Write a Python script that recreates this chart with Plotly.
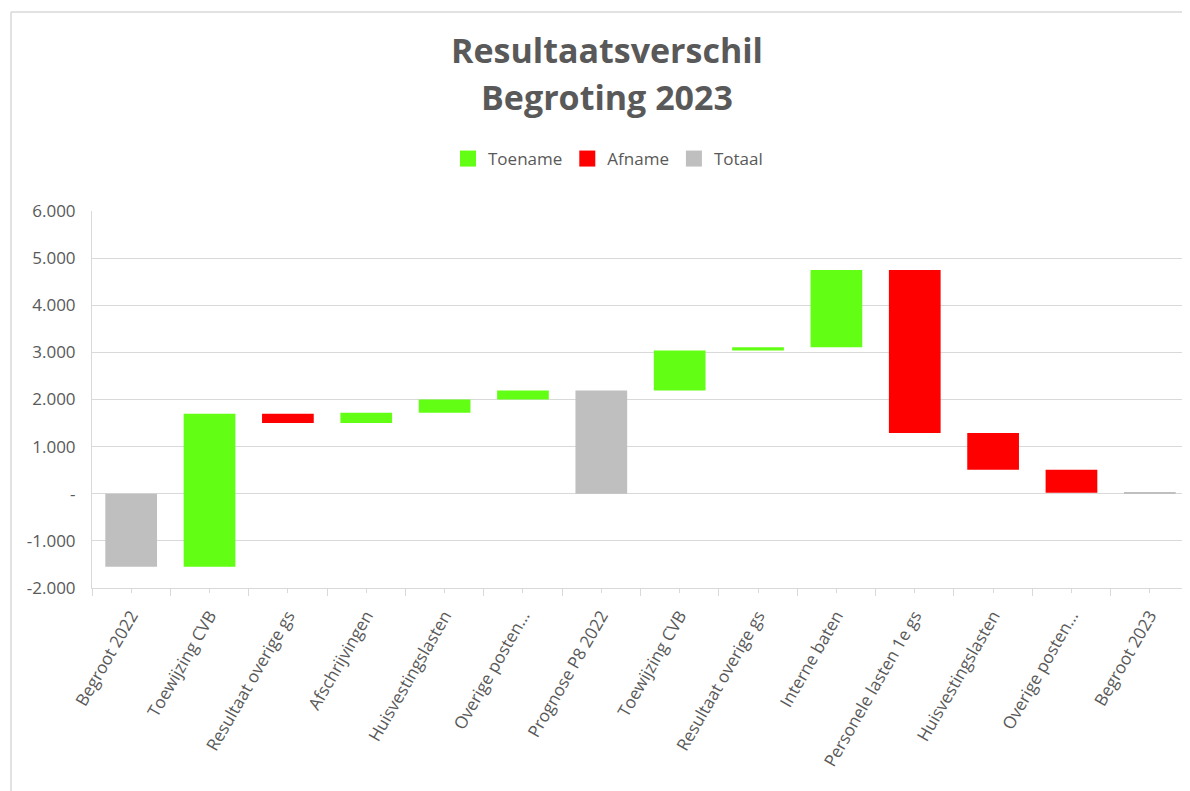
import plotly.graph_objects as go

# ---- data ----
categories = [
    "Begroot 2022", "Toewijzing CVB", "Resultaat overige gs", "Afschrijvingen",
    "Huisvestingslasten", "Overige posten...", "Prognose P8 2022", "Toewijzing CVB",
    "Resultaat overige gs", "Interne baten", "Personele lasten 1e gs",
    "Huisvestingslasten", "Overige posten...", "Begroot 2023",
]
measures = ["total", "relative", "relative", "relative", "relative", "relative", "total",
            "relative", "relative", "relative", "relative", "relative", "relative", "total"]
values = [-1550, 3250, -200, 220, 280, 190, 2190, 850, 70, 1640, -3460, -780, -490, 20]

y_tickvals = [-2000, -1000, 0, 1000, 2000, 3000, 4000, 5000, 6000]
y_ticktext = ["-2.000", "-1.000", "-", "1.000", "2.000", "3.000", "4.000", "5.000", "6.000"]

title_lines = ["Resultaatsverschil", "Begroting 2023"]
series_names = {"up": "Toename", "down": "Afname", "total": "Totaal"}
colors = {"up": "#62FF14", "down": "#FF0000", "total": "#BFBFBF"}

# ---- build waterfall pieces ----
groups = {"up": ([], [], []), "down": ([], [], []), "total": ([], [], [])}
running = 0
for i, (m, v) in enumerate(zip(measures, values)):
    if m == "total":
        running = v
        groups["total"][0].append(i); groups["total"][1].append(0); groups["total"][2].append(v)
    else:
        key = "up" if v >= 0 else "down"
        groups[key][0].append(i); groups[key][1].append(running); groups[key][2].append(v)
        running += v

fig = go.Figure()
for key in ["up", "down", "total"]:
    xs, bases, ys = groups[key]
    fig.add_trace(go.Bar(
        x=xs, y=ys, base=bases, name=series_names[key], legendgroup=key,
        marker=dict(color=colors[key], line=dict(width=0)),
        width=0.66, showlegend=False,
    ))
# legend entries with larger square swatches
for key in ["up", "down", "total"]:
    fig.add_trace(go.Scatter(
        x=[None], y=[None], mode="markers", name=series_names[key], legendgroup=key,
        marker=dict(symbol="square", size=16, color=colors[key]),
    ))

# page body has an 8px margin: figure origin sits at (8, 8) in the screenshot
OFF = 8
W, H = 1190 - OFF, 791 - OFF
ml, mt = 92 - OFF, 211 - OFF
plot_right, plot_bottom = 1189 - OFF, 588 - OFF
mr, mb = W - plot_right, H - plot_bottom
pw, ph = W - ml - mr, H - mt - mb

def px(x):  # screenshot x -> paper
    return (x - OFF - ml) / pw

def py(y):  # screenshot y -> paper
    return (plot_bottom - (y - OFF)) / ph

grid = "#D9D9D9"
txt = "#595959"

annotations = [
    dict(text="<b>%s</b>" % title_lines[0], xref="paper", yref="paper", x=px(607), y=py(50),
         xanchor="center", yanchor="middle", showarrow=False,
         font=dict(family="Open Sans", size=34, color=txt)),
    dict(text="<b>%s</b>" % title_lines[1], xref="paper", yref="paper", x=px(607), y=py(97),
         xanchor="center", yanchor="middle", showarrow=False,
         font=dict(family="Open Sans", size=34, color=txt)),
]

fig.update_layout(
    width=W, height=H,
    margin=dict(l=ml, r=mr, t=mt, b=mb, pad=0),
    paper_bgcolor="white", plot_bgcolor="white",
    barmode="overlay",
    font=dict(family="Open Sans", size=17, color=txt),
    annotations=annotations,
    legend=dict(
        orientation="h", x=px(608), xanchor="center",
        y=py(159), yanchor="middle",
        font=dict(size=17, color=txt), itemsizing="trace", traceorder="normal",
        itemwidth=30,
    ),
    showlegend=True,
    xaxis=dict(
        range=[-0.5, len(categories) - 0.5],
        tickmode="array", tickvals=list(range(len(categories))), ticktext=categories,
        tickangle=-60, ticks="outside", ticklen=4, tickcolor=grid,
        showline=True, linecolor=grid, linewidth=1,
        showgrid=False, zeroline=False, ticklabelstandoff=6,
        tickfont=dict(size=17, color=txt),
        minor=dict(tickmode="linear", tick0=-0.5, dtick=1, ticks="outside",
                   ticklen=7, tickcolor=grid, showgrid=False),
    ),
    yaxis=dict(
        range=[-2000, 6000],
        tickmode="array", tickvals=y_tickvals, ticktext=y_ticktext,
        showgrid=True, gridcolor=grid, gridwidth=1,
        zeroline=False, showline=True, linecolor=grid, linewidth=1,
        ticks="", ticklabelstandoff=12,
        tickfont=dict(size=17, color=txt),
    ),
    shapes=[
        dict(type="line", xref="paper", yref="paper", x0=px(11), x1=px(1200),
             y0=py(12), y1=py(12), line=dict(color=grid, width=1.5)),
        dict(type="line", xref="paper", yref="paper", x0=px(11), x1=px(11),
             y0=py(12), y1=py(800), line=dict(color=grid, width=1.5)),
    ],
)

fig.write_html("out.html")
